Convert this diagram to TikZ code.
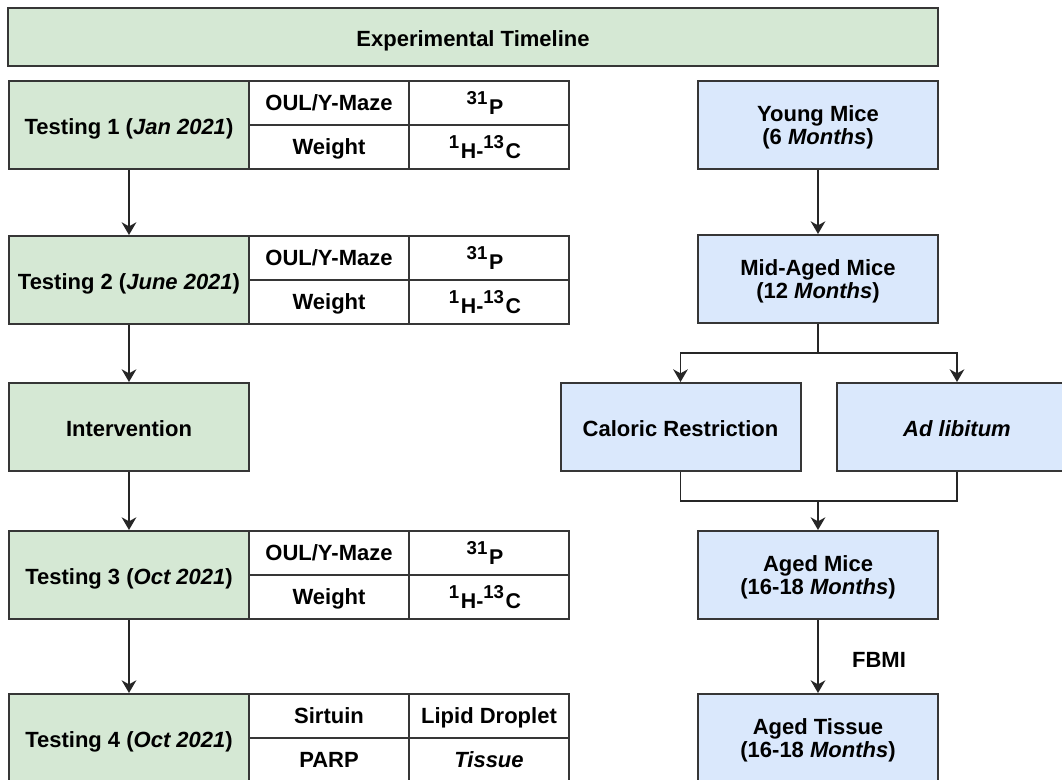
\documentclass[tikz,border=0pt]{standalone}
\usepackage{fontspec}
\setmainfont{Liberation Sans}
\usetikzlibrary{arrows.meta}
\definecolor{gfill}{HTML}{D5E8D4}
\definecolor{bfill}{HTML}{DAE8FC}
\definecolor{edge}{HTML}{363636}
\newcommand{\iso}[2]{\raisebox{5pt}{\fontsize{14pt}{15pt}\selectfont #1}\kern1.2pt\raisebox{-2.5pt}{\fontsize{16pt}{17pt}\selectfont #2}}
\newcommand{\twolines}[2]{\raisebox{-2.5pt}[\height][\depth]{\renewcommand{\arraystretch}{1}\begin{tabular}{@{}c@{}}#1\\#2\end{tabular}}}
\tikzset{
  base/.style={draw=edge, line width=1.5pt, rectangle, inner sep=0pt, align=center,
    font=\fontsize{16.5pt}{17.8pt}\selectfont\bfseries},
  one/.style={text height=14pt, text depth=0pt},
  onec/.style={text height=11.9pt, text depth=0pt},
  gbox/.style={base, fill=gfill, minimum width=180pt, minimum height=66pt},
  bbox/.style={base, fill=bfill, minimum width=180pt, minimum height=66pt},
  cell/.style={base, onec, fill=white, minimum width=120pt, minimum height=33pt},
  arr/.style={draw=black!85, line width=1.1pt, -{Stealth[length=9.5pt,width=11pt,inset=3pt]}},
  ln/.style={draw=black!85, line width=1.1pt},
}
\begin{document}
\begin{tikzpicture}[x=0.75pt,y=-0.75pt]
\useasboundingbox (0,0) rectangle (1062,780);
\begin{scope}
\clip (0,0) rectangle (1062,780);
% title
\node[base, one, fill=gfill, minimum width=697.5pt, minimum height=43.5pt] (title) at (473,37) {Experimental Timeline};

% left column
\node[gbox, one] (t1) at (129,125) {Testing 1 (\textit{Jan 2021})};
\node[cell] (t1a) at (329,103) {OUL/Y-Maze};
\node[cell] (t1b) at (489,103) {\iso{31}{P}\kern6pt};
\node[cell] (t1c) at (329,147) {Weight};
\node[cell] (t1d) at (489,147) {\iso{1}{H-}\iso{13}{C}\kern6pt};

\node[gbox, one] (t2) at (129,280) {Testing 2 (\textit{June 2021})};
\node[cell] (t2a) at (329,258) {OUL/Y-Maze};
\node[cell] (t2b) at (489,258) {\iso{31}{P}\kern6pt};
\node[cell] (t2c) at (329,302) {Weight};
\node[cell] (t2d) at (489,302) {\iso{1}{H-}\iso{13}{C}\kern6pt};

\node[gbox, one] (int) at (129,427) {Intervention};

\node[gbox, one] (t3) at (129,575) {Testing 3 (\textit{Oct 2021})};
\node[cell] (t3a) at (329,553) {OUL/Y-Maze};
\node[cell] (t3b) at (489,553) {\iso{31}{P}\kern6pt};
\node[cell] (t3c) at (329,597) {Weight};
\node[cell] (t3d) at (489,597) {\iso{1}{H-}\iso{13}{C}\kern6pt};

\node[gbox, one] (t4) at (129,738) {Testing 4 (\textit{Oct 2021})};
\node[cell] (t4a) at (329,716) {Sirtuin};
\node[cell] (t4b) at (489,716) {Lipid Droplet};
\node[cell] (t4c) at (329,760) {PARP};
\node[cell] (t4d) at (489,760) {\textit{Tissue}};

\draw[arr] (t1.south) -- (t2.north);
\draw[arr] (t2.south) -- (int.north);
\draw[arr] (int.south) -- (t3.north);
\draw[arr] (t3.south) -- (t4.north);

% right column
\node[bbox] (young) at (818,125) {\twolines{Young Mice}{(6 \textit{Months})}};
\node[bbox] (mid) at (818,279) {\twolines{Mid-Aged Mice}{(12 \textit{Months})}};
\node[bbox, one] (cr) at (680.5,427) {Caloric Restriction};
\node[bbox, one] (ad) at (957,427) {\textit{Ad libitum}};
\node[bbox] (aged) at (818,575) {\twolines{Aged Mice}{(16-18 \textit{Months})}};
\node[bbox] (tissue) at (818,738) {\twolines{Aged Tissue}{(16-18 \textit{Months})}};

\coordinate (split) at (818,353);
\coordinate (merge) at (818,501);
\draw[arr] (young.south) -- (mid.north);
\draw[ln] (mid.south) -- (split);
\draw[arr] (split) -| (cr.north);
\draw[arr] (split) -| (ad.north);
\draw[ln] (cr.south) |- (merge);
\draw[ln] (ad.south) |- (merge);
\draw[arr] (merge) -- (aged.north);
\draw[arr] (aged.south) -- (tissue.north);
\node[font=\fontsize{16.5pt}{17.3pt}\selectfont\bfseries, text height=11.9pt, text depth=0pt, inner sep=0pt] (fbmi) at (879,660) {FBMI};
\end{scope}
\end{tikzpicture}
\end{document}
